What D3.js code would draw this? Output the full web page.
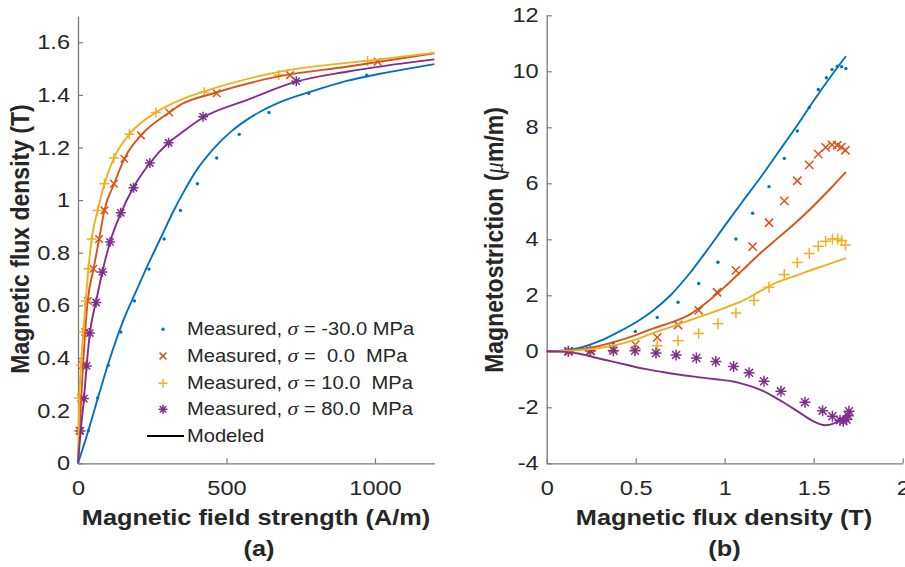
<!DOCTYPE html>
<html><head><meta charset="utf-8">
<script src="https://cdn.jsdelivr.net/npm/d3@7"></script>
<style>
html,body{margin:0;padding:0;background:#fff;}
svg{display:block;}
text{font-family:"Liberation Sans",Arial,sans-serif;fill:#262626;white-space:pre;}
</style></head>
<body>
<svg id="chart" width="905" height="567"></svg>
<script>
// ---------- DATA ----------
const legendLabels = ["Measured, σ = -30.0 MPa","Measured, σ =  0.0  MPa","Measured, σ = 10.0  MPa","Measured, σ = 80.0  MPa"];
const colors = ["#0072BD","#D95319","#EDB120","#7E2F8E"];

// (a) B-H curves: measured points
const bhH_m30 = [35,66,102,144,190,239,290,345,402,467,543,643,777,972];
const bhB_m30 = [0.124,0.248,0.373,0.499,0.617,0.738,0.852,0.961,1.062,1.160,1.250,1.333,1.406,1.475];
const bhH_0 = [5,11,17,24,33,52,71,89,121,156,212,307,467,714,1009];
const bhB_0 = [0.124,0.248,0.373,0.499,0.617,0.739,0.852,0.961,1.062,1.157,1.246,1.333,1.406,1.475,1.526];
const bhH_10 = [2,4.5,10,18,26,35,46,66,89,121,173,262,425,676,975];
const bhB_10 = [0.124,0.248,0.373,0.499,0.617,0.739,0.852,0.961,1.062,1.160,1.250,1.333,1.410,1.475,1.529];
const bhH_80 = [8,20,29,40,61,82,108,144,187,242,305,421,735];
const bhB_80 = [0.123,0.246,0.370,0.495,0.611,0.727,0.841,0.952,1.047,1.141,1.218,1.317,1.452];

// (a) modeled curves
const mH_m30 = [0,35,68,102,153,200,240,280,320,360,400,456,520,568,680,792,905,1017,1200];
const mB_m30 = [0,0.125,0.252,0.379,0.544,0.665,0.765,0.86,0.955,1.04,1.115,1.195,1.265,1.305,1.372,1.415,1.453,1.48,1.517];
const mH_0 = [0,5,11,17,24,33,52,71,89,122,156,212,307,343,456,680,905,1200];
const mB_0 = [0,0.124,0.248,0.373,0.499,0.62,0.737,0.851,0.962,1.063,1.157,1.246,1.333,1.361,1.406,1.471,1.507,1.558];
const mH_10 = [0,2,4.5,10,18,26,35,46,66,89,121,173,262,343,422,680,977,1200];
const mB_10 = [0,0.124,0.248,0.373,0.499,0.617,0.739,0.852,0.961,1.062,1.16,1.25,1.333,1.38,1.412,1.488,1.53,1.56];
const mH_80 = [0,9,20,29,40,60,82,108,145,186,242,305,343,421,568,735,905,1200];
const mB_80 = [0,0.123,0.246,0.370,0.495,0.611,0.727,0.841,0.952,1.047,1.141,1.218,1.251,1.314,1.380,1.450,1.488,1.535];

// (b) magnetostriction: measured points
const lmB_m30 = [0.124,0.248,0.373,0.498,0.621,0.738,0.854,0.962,1.063,1.157,1.249,1.335,1.408,1.475,1.526,1.571,1.603,1.633,1.657,1.681];
const lmL_m30 = [0.01,0.08,0.3,0.71,1.21,1.75,2.42,3.18,4.01,4.93,5.88,6.89,7.87,8.71,9.35,9.77,10.06,10.18,10.16,10.1];
const lmB_0 = [0.124,0.248,0.373,0.498,0.621,0.738,0.854,0.957,1.063,1.157,1.249,1.335,1.408,1.475,1.526,1.567,1.603,1.632,1.655,1.678];
const lmL_0 = [0,0.02,0.1,0.24,0.5,0.94,1.46,2.11,2.89,3.74,4.59,5.37,6.09,6.66,7.04,7.28,7.37,7.36,7.29,7.18];
const lmB_10 = [0.124,0.248,0.373,0.498,0.621,0.738,0.854,0.962,1.063,1.165,1.249,1.335,1.408,1.475,1.526,1.567,1.605,1.635,1.657,1.678];
const lmL_10 = [0,0,0.03,0.08,0.2,0.38,0.64,0.98,1.37,1.81,2.29,2.74,3.17,3.49,3.75,3.93,4.01,4.01,3.95,3.8];
const lmB_80 = [0.121,0.244,0.375,0.496,0.614,0.727,0.841,0.95,1.05,1.137,1.221,1.316,1.451,1.55,1.605,1.648,1.666,1.685,1.694,1.698];
const lmL_80 = [0,0.02,0.02,0.02,-0.06,-0.13,-0.24,-0.36,-0.54,-0.77,-1.07,-1.43,-1.82,-2.12,-2.32,-2.46,-2.5,-2.44,-2.3,-2.14];

// (b) modeled curves
const mlB_m30 = [0,0.1,0.2,0.3,0.4,0.5,0.6,0.7,0.8,0.9,1.0,1.1,1.2,1.3,1.4,1.5,1.6,1.681];
const mlL_m30 = [0,0.03,0.15,0.37,0.68,1.03,1.47,2.03,2.76,3.6,4.48,5.35,6.2,7.1,8.0,8.95,9.85,10.54];
const mlB_0 = [0,0.1,0.2,0.3,0.4,0.5,0.6,0.7,0.8,0.9,1.0,1.1,1.2,1.3,1.4,1.5,1.6,1.681];
const mlL_0 = [0,0.02,0.08,0.2,0.37,0.58,0.82,1.03,1.3,1.75,2.3,2.9,3.5,4.05,4.6,5.2,5.85,6.4];
const mlB_10 = [0,0.1,0.2,0.3,0.4,0.5,0.6,0.7,0.8,0.9,1.0,1.1,1.2,1.3,1.4,1.5,1.6,1.681];
const mlL_10 = [0,0.01,0.05,0.12,0.24,0.42,0.66,0.87,1.1,1.32,1.55,1.8,2.15,2.48,2.7,2.93,3.15,3.33];
const mlB_80 = [0,0.1,0.178,0.27,0.365,0.46,0.552,0.65,0.739,0.861,0.95,1.048,1.12,1.198,1.265,1.329,1.423,1.498,1.563,1.61,1.648,1.685];
const mlL_80 = [0,-0.02,-0.08,-0.22,-0.36,-0.5,-0.63,-0.74,-0.83,-0.93,-1.0,-1.08,-1.2,-1.37,-1.58,-1.82,-2.2,-2.5,-2.64,-2.58,-2.44,-2.28];

// ticks
const xTicksL = [0,500,1000];
const xTickLabelsL = ["0","500","1000"];
const yTicksL = [0,0.2,0.4,0.6,0.8,1.0,1.2,1.4,1.6];
const yTickLabelsL = ["0","0.2","0.4","0.6","0.8","1","1.2","1.4","1.6"];
const xTicksR = [0,0.5,1,1.5,2];
const xTickLabelsR = ["0","0.5","1","1.5","2"];
const yTicksR = [-4,-2,0,2,4,6,8,10,12];
const yTickLabelsR = ["-4","-2","0","2","4","6","8","10","12"];

// ---------- DRAW ----------
const S = 1.15; // horizontal stretch of the reference
const svg = d3.select("#chart");
const markers = ["dot","x","plus","star"];

const xL = d3.scaleLinear().domain([0,1200]).range([78,434.4]);
const yL = d3.scaleLinear().domain([0,1.7]).range([463.3,15.9]);
const xR = d3.scaleLinear().domain([0,2]).range([546.7,902.7]);
const yR = d3.scaleLinear().domain([-4,12]).range([463.3,15.3]);

function drawMarker(g, type, x, y, r, color){
  if(type==="dot"){
    g.append("circle").attr("cx",x).attr("cy",y).attr("r",1.7).attr("fill",color);
    return;
  }
  const p = d3.path();
  if(type==="x"||type==="star"){
    const k = type==="star" ? r*0.72 : r*0.75;
    p.moveTo(x-k,y-k); p.lineTo(x+k,y+k);
    p.moveTo(x-k,y+k); p.lineTo(x+k,y-k);
  }
  if(type==="plus"||type==="star"){
    p.moveTo(x-r,y); p.lineTo(x+r,y);
    p.moveTo(x,y-r); p.lineTo(x,y+r);
  }
  g.append("path").attr("d",p.toString()).attr("stroke",color).attr("stroke-width",1.5).attr("fill","none");
}

function styleAxis(g, isY){
  g.select(".domain").attr("stroke","#7a7a7a").attr("stroke-width",1.3);
  g.selectAll(".tick line").attr("stroke","#7a7a7a").attr("stroke-width",1.2);
  g.selectAll(".tick text").attr("fill","#262626").attr("font-size","20.5px")
    .attr("font-family","Liberation Sans, Arial, sans-serif");
  if(isY){
    g.selectAll(".tick text").attr("x",-8/S).attr("transform",`scale(${S},1)`);
  } else {
    g.selectAll(".tick text").attr("y",17.5).attr("transform",`scale(${S},1)`);
  }
}

function panel(xs, ys, xt, xtl, yt, ytl, measB, measV, modX, modY, r){
  const gx = svg.append("g").attr("transform",`translate(0,${ys.range()[0]})`)
    .call(d3.axisBottom(xs).tickValues(xt).tickFormat((d,i)=>xtl[i]).tickSizeInner(-5).tickSizeOuter(0).tickPadding(0));
  styleAxis(gx,false);
  const gy = svg.append("g").attr("transform",`translate(${xs.range()[0]},0)`)
    .call(d3.axisLeft(ys).tickValues(yt).tickFormat((d,i)=>ytl[i]).tickSizeInner(-5).tickSizeOuter(0).tickPadding(8));
  styleAxis(gy,true);
  const line = d3.line().x(d=>xs(d[0])).y(d=>ys(d[1])).curve(d3.curveMonotoneX);
  const gm = svg.append("g");
  for(let s=0;s<4;s++){
    measB[s].forEach((v,i)=>drawMarker(gm, markers[s], xs(v), ys(measV[s][i]), r, colors[s]));
  }
  for(let s=0;s<4;s++){
    const pts = modX[s].map((v,i)=>[v, modY[s][i]]);
    svg.append("path").attr("d",line(pts)).attr("fill","none").attr("stroke",colors[s]).attr("stroke-width",1.9);
  }
}

panel(xL, yL, xTicksL, xTickLabelsL, yTicksL, yTickLabelsL,
  [bhH_m30,bhH_0,bhH_10,bhH_80],[bhB_m30,bhB_0,bhB_10,bhB_80],
  [mH_m30,mH_0,mH_10,mH_80],[mB_m30,mB_0,mB_10,mB_80], 5);
panel(xR, yR, xTicksR, xTickLabelsR, yTicksR, yTickLabelsR,
  [lmB_m30,lmB_0,lmB_10,lmB_80],[lmL_m30,lmL_0,lmL_10,lmL_80],
  [mlB_m30,mlB_0,mlB_10,mlB_80],[mlL_m30,mlL_0,mlL_10,mlL_80], 5.5);

// axis labels
function label(x,y,txt,size,rot,parts){
  const t = svg.append("text")
    .attr("transform",`translate(${x},${y}) scale(${S},1)` + (rot?" rotate(-90)":""))
    .attr("text-anchor","middle").attr("font-size",size+"px").attr("font-weight","bold");
  if(parts){
    parts.forEach(p=>{
      const ts = t.append("tspan").text(p.t);
      if(p.it) ts.attr("font-style","italic").attr("font-family","Liberation Serif, serif").attr("font-weight","normal");
    });
  } else t.text(txt);
  return t;
}
label(256,525,"Magnetic field strength (A/m)",22,false);
label(259,556,"(a)",22,false);
label(724,525,"Magnetic flux density (T)",22,false);
label(724.5,556,"(b)",22,false);
label(29,239,"Magnetic flux density (T)",23,true);
label(503,240,null,23,true,[{t:"Magnetostriction ("},{t:"μ",it:true},{t:"m/m)"}]);

// legend
const legY = [329.3,356,383.3,409.3];
const lg = svg.append("g");
legendLabels.forEach((lab,i)=>{
  drawMarker(lg, markers[i], 163, legY[i], 4.5, colors[i]);
  const parts = lab.split("σ");
  const t = lg.append("text").attr("transform",`translate(187,${legY[i]+6}) scale(${S},1)`)
    .attr("font-size","17.5px");
  t.append("tspan").text(parts[0]);
  t.append("tspan").attr("font-style","italic").attr("font-family","Liberation Serif, serif").attr("font-size","19px").text("σ");
  t.append("tspan").text(parts[1]);
});
lg.append("line").attr("x1",147).attr("x2",184).attr("y1",436).attr("y2",436).attr("stroke","#000").attr("stroke-width",1.9);
lg.append("text").attr("transform",`translate(187,442) scale(${S},1)`).attr("font-size","17.5px").text("Modeled");
</script>
</body></html>
